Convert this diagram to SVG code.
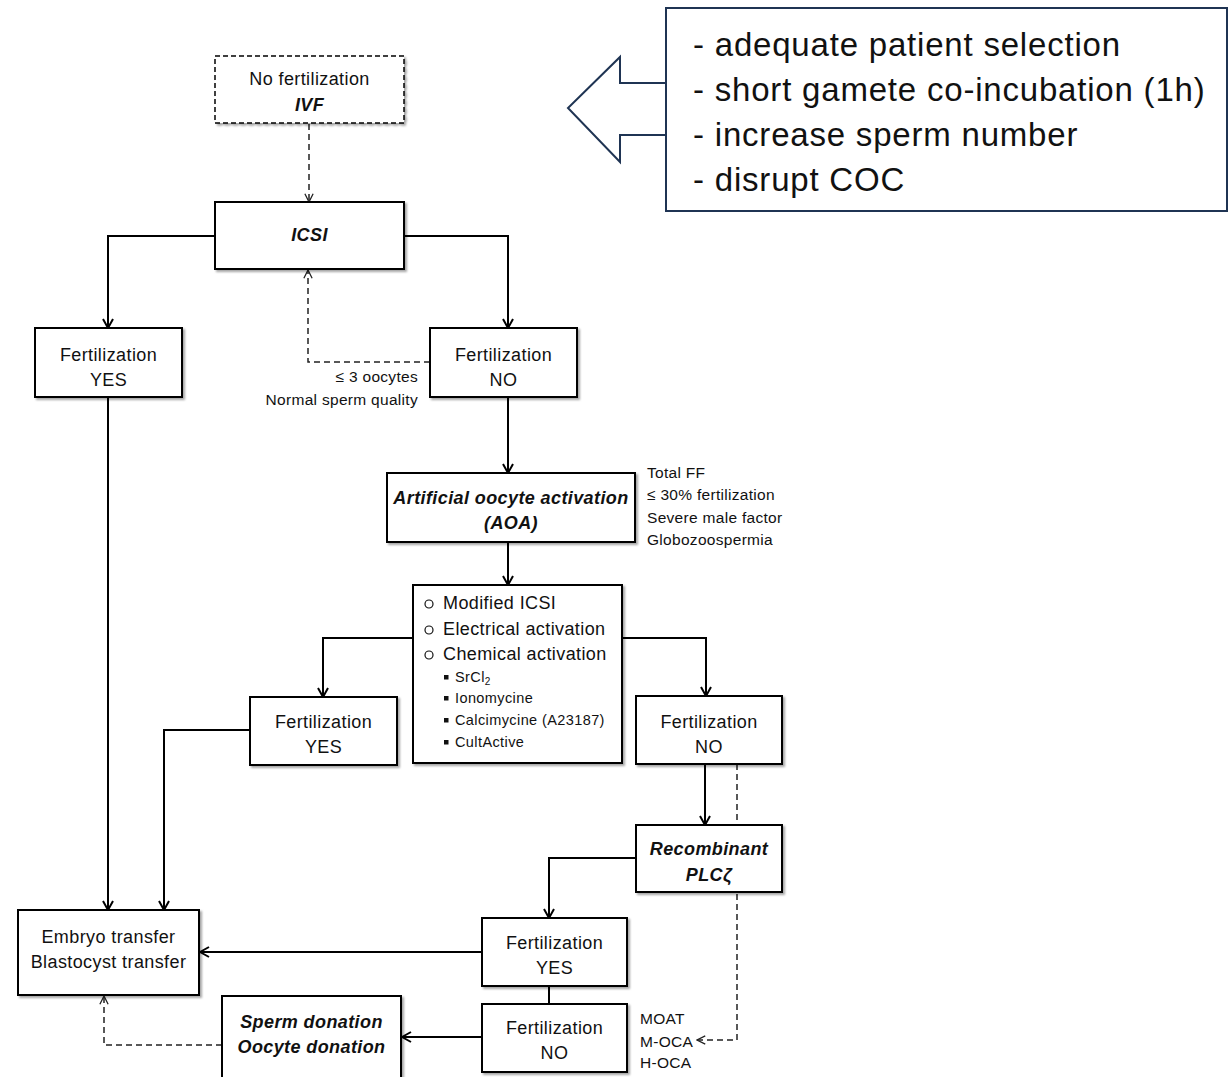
<svg xmlns="http://www.w3.org/2000/svg" width="1229" height="1077" viewBox="0 0 1229 1077">
  <style>
    .box { fill: #fff; stroke: #000; stroke-width: 2; filter: url(#shadow); }
    .dbox { fill: #fff; stroke: #000; stroke-width: 1.5; stroke-dasharray: 5 3; filter: url(#shadow); }
    .t { font-family: "Liberation Sans", Arial, sans-serif; font-size: 18px; letter-spacing: 0.4px; fill: #111; text-anchor: middle; }
    .bi { font-weight: bold; font-style: italic; letter-spacing: 0.4px; }
    .s { font-family: "Liberation Sans", Arial, sans-serif; font-size: 15.5px; letter-spacing: 0.3px; fill: #111; }
    .li { font-family: "Liberation Sans", Arial, sans-serif; font-size: 18px; letter-spacing: 0.4px; fill: #111; }
    .sub { font-family: "Liberation Sans", Arial, sans-serif; font-size: 14.5px; letter-spacing: 0.4px; fill: #111; }
    .call { font-family: "Liberation Sans", Arial, sans-serif; font-size: 33px; letter-spacing: 0.8px; fill: #111; }
    .c { fill: none; stroke: #000; stroke-width: 2; marker-end: url(#arr); }
    .cn { fill: none; stroke: #000; stroke-width: 2; }
    .d { fill: none; stroke: #222; stroke-width: 1.5; stroke-dasharray: 6 4; marker-end: url(#arrd); }
  </style>
  <defs>
    <filter id="shadow" x="-10%" y="-10%" width="130%" height="130%">
      <feDropShadow dx="2" dy="2" stdDeviation="1.2" flood-color="#000" flood-opacity="0.35"/>
    </filter>
    <marker id="arr" viewBox="0 0 12 12" refX="11" refY="6" markerWidth="12" markerHeight="12" markerUnits="userSpaceOnUse" orient="auto">
      <path d="M2,1 L11,6 L2,11" fill="none" stroke="#000" stroke-width="2"/>
    </marker>
    <marker id="arrd" viewBox="0 0 12 12" refX="11" refY="6" markerWidth="11" markerHeight="11" markerUnits="userSpaceOnUse" orient="auto">
      <path d="M2,1.5 L11,6 L2,10.5" fill="none" stroke="#222" stroke-width="1.4"/>
    </marker>
  </defs>

  <rect width="1229" height="1077" fill="#fff"/>

  <!-- connectors -->
  <g id="connectors">
    <path class="d" d="M309,124 V202"/>
    <path class="c" d="M215,236 H108 V328"/>
    <path class="c" d="M404,236 H508 V328"/>
    <path class="d" d="M430,362 H308 V270"/>
    <path class="c" d="M508,397 V473"/>
    <path class="c" d="M108,397 V910"/>
    <path class="c" d="M508,542 V585"/>
    <path class="c" d="M413,638 H323 V697"/>
    <path class="c" d="M622,638 H706 V696"/>
    <path class="c" d="M250,730 H164 V910"/>
    <path class="c" d="M705,764 V825"/>
    <path class="d" d="M737,764 V1040 H697"/>
    <path class="c" d="M636,858 H549 V918"/>
    <path class="cn" d="M549,986 V1004"/>
    <path class="c" d="M482,952 H200"/>
    <path class="c" d="M482,1037 H402"/>
    <path class="d" d="M222,1045 H104 V996"/>
  </g>

  <!-- callout: hints for avoiding fertilization failure -->
  <g id="callout">
    <path d="M666,83 H620 V57 L568,108 L620,162 V135 H666" fill="#fff" stroke="#1f3453" stroke-width="2"/>
    <rect x="666" y="8" width="561" height="203" fill="#fff" stroke="#1f3453" stroke-width="2"/>
    <text class="call" x="693" y="56">- adequate patient selection</text>
    <text class="call" x="693" y="101">- short gamete co-incubation (1h)</text>
    <text class="call" x="693" y="146">- increase sperm number</text>
    <text class="call" x="693" y="191">- disrupt COC</text>
  </g>

  <g id="ivf">
    <rect class="dbox" x="215" y="56" width="189" height="67"/>
    <text class="t" x="309.5" y="85">No fertilization</text>
    <text class="t bi" x="309.5" y="111">IVF</text>
  </g>

  <g id="icsi">
    <rect class="box" x="215" y="202" width="189" height="67"/>
    <text class="t bi" x="309.5" y="241">ICSI</text>
  </g>

  <g id="fert-yes-1">
    <rect class="box" x="35" y="328" width="147" height="69"/>
    <text class="t" x="108.5" y="361">Fertilization</text>
    <text class="t" x="108.5" y="386">YES</text>
  </g>

  <g id="fert-no-1">
    <rect class="box" x="430" y="328" width="147" height="69"/>
    <text class="t" x="503.5" y="361">Fertilization</text>
    <text class="t" x="503.5" y="386">NO</text>
  </g>

  <g id="retry-criteria">
    <text class="s" x="418" y="382" text-anchor="end">≤ 3 oocytes</text>
    <text class="s" x="418" y="405" text-anchor="end">Normal sperm quality</text>
  </g>

  <g id="aoa">
    <rect class="box" x="387" y="473" width="248" height="69"/>
    <text class="t bi" x="511" y="504" style="font-size:18px">Artificial oocyte activation</text>
    <text class="t bi" x="511" y="529" style="font-size:18px">(AOA)</text>
  </g>

  <g id="aoa-indications">
    <text class="s" x="647" y="478">Total FF</text>
    <text class="s" x="647" y="500">≤ 30% fertilization</text>
    <text class="s" x="647" y="523">Severe male factor</text>
    <text class="s" x="647" y="545">Globozoospermia</text>
  </g>

  <g id="aoa-methods">
    <rect class="box" x="413" y="585" width="209" height="178"/>
    <circle cx="429" cy="604" r="4" fill="none" stroke="#111" stroke-width="1.2"/>
    <circle cx="429" cy="630" r="4" fill="none" stroke="#111" stroke-width="1.2"/>
    <circle cx="429" cy="655" r="4" fill="none" stroke="#111" stroke-width="1.2"/>
    <text class="li" x="443" y="609">Modified ICSI</text>
    <text class="li" x="443" y="635">Electrical activation</text>
    <text class="li" x="443" y="660">Chemical activation</text>
    <rect x="444" y="675" width="4.5" height="4.5" fill="#111"/>
    <rect x="444" y="696" width="4.5" height="4.5" fill="#111"/>
    <rect x="444" y="718" width="4.5" height="4.5" fill="#111"/>
    <rect x="444" y="740" width="4.5" height="4.5" fill="#111"/>
    <text class="sub" x="455" y="682">SrCl<tspan font-size="10" dy="3">2</tspan></text>
    <text class="sub" x="455" y="703">Ionomycine</text>
    <text class="sub" x="455" y="725">Calcimycine (A23187)</text>
    <text class="sub" x="455" y="747">CultActive</text>
  </g>

  <g id="fert-yes-2">
    <rect class="box" x="250" y="697" width="147" height="68"/>
    <text class="t" x="323.5" y="728">Fertilization</text>
    <text class="t" x="323.5" y="753">YES</text>
  </g>

  <g id="fert-no-2">
    <rect class="box" x="636" y="696" width="146" height="68"/>
    <text class="t" x="709" y="728">Fertilization</text>
    <text class="t" x="709" y="753">NO</text>
  </g>

  <g id="plc-zeta">
    <rect class="box" x="636" y="825" width="146" height="67"/>
    <text class="t bi" x="709" y="855">Recombinant</text>
    <text class="t bi" x="709" y="881">PLCζ</text>
  </g>

  <g id="fert-yes-3">
    <rect class="box" x="482" y="918" width="145" height="68"/>
    <text class="t" x="554.5" y="949">Fertilization</text>
    <text class="t" x="554.5" y="974">YES</text>
  </g>

  <g id="fert-no-3">
    <rect class="box" x="482" y="1004" width="145" height="68"/>
    <text class="t" x="554.5" y="1034">Fertilization</text>
    <text class="t" x="554.5" y="1059">NO</text>
  </g>

  <g id="oocyte-tests">
    <text class="s" x="640" y="1024">MOAT</text>
    <text class="s" x="640" y="1047">M-OCA</text>
    <text class="s" x="640" y="1068">H-OCA</text>
  </g>

  <g id="transfer">
    <rect class="box" x="18" y="910" width="181" height="85"/>
    <text class="t" x="108.5" y="943">Embryo transfer</text>
    <text class="t" x="108.5" y="968">Blastocyst transfer</text>
  </g>

  <g id="donation">
    <rect class="box" x="222" y="996" width="179" height="95"/>
    <text class="t bi" x="311.5" y="1028">Sperm donation</text>
    <text class="t bi" x="311.5" y="1053">Oocyte donation</text>
  </g>
</svg>
